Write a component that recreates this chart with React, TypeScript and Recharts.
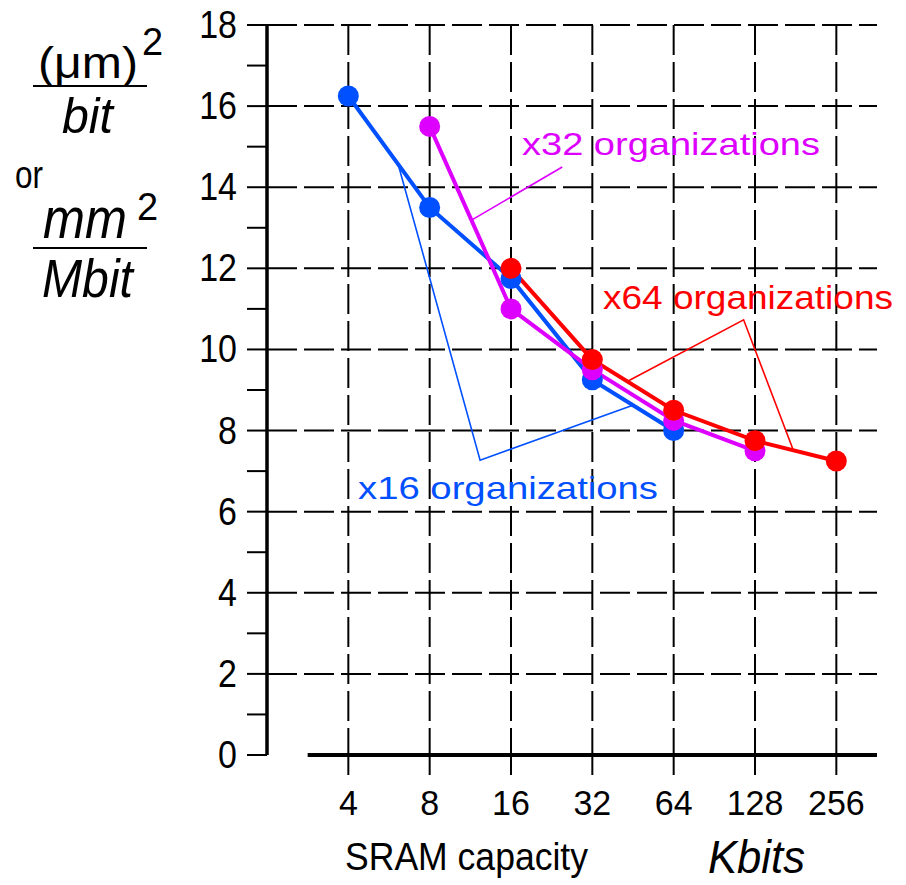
import React from 'react';
import { LineChart, Line, XAxis, YAxis, CartesianGrid, ReferenceLine } from 'recharts';

// ---- data ----
const capacities = ['4', '8', '16', '32', '64', '128', '256'];
const x16Values: (number | null)[] = [16.25, 13.5, 11.75, 9.25, 8.0, null, null];
const x32Values: (number | null)[] = [null, 15.5, 11.0, 9.5, 8.25, 7.5, null];
const x64Values: (number | null)[] = [null, null, 12.0, 9.75, 8.5, 7.75, 7.25];
const yTicks = [0, 1, 2, 3, 4, 5, 6, 7, 8, 9, 10, 11, 12, 13, 14, 15, 16, 17, 18];
const yGridValues = [2, 4, 6, 8, 10, 12, 14, 16, 18];

// leader lines for the annotations (in data coordinates: x = capacity index)
const x32Leader = [{ x: 2.63, y: 14.5 }, { x: 1.525, y: 13.2 }];
const x64Leader = [{ x: 3.44, y: 9.22 }, { x: 4.86, y: 10.73 }, { x: 5.47, y: 7.52 }];
const x16Leader = [{ x: 0.615, y: 14.55 }, { x: 1.62, y: 7.27 }, { x: 3.49, y: 8.62 }];

const rows = capacities.map((c, i) => ({ x: i, label: c, x16: x16Values[i], x32: x32Values[i], x64: x64Values[i] }));
const xTicks = capacities.map((_, i) => i);

const BLUE = '#0050FF';
const MAGENTA = '#DD00FF';
const RED = '#FF0000';
const FONT = '"Liberation Sans", Arial, Helvetica, sans-serif';

type TxtProps = {
  x: number; y: number; size: number; sy?: number; len?: number; italic?: boolean;
  fill?: string; anchor?: 'start' | 'middle' | 'end'; children: React.ReactNode;
};
const Txt = ({ x, y, size, sy = 1, len, italic, fill = '#000', anchor = 'start', children }: TxtProps) => (
  <text
    transform={`translate(${x},${y}) scale(1,${sy})`}
    fontSize={size}
    fontFamily={FONT}
    fontStyle={italic ? 'italic' : 'normal'}
    fill={fill}
    textAnchor={anchor}
    textLength={len}
    lengthAdjust={len ? 'spacingAndGlyphs' : undefined}
  >
    {children}
  </text>
);

const YTick = (props: any) => {
  const { x, y, payload } = props;
  if (payload.value % 2 !== 0) return <g />;
  return <Txt x={x} y={y + 13} size={34} sy={1.12} anchor="end">{payload.value}</Txt>;
};

const XTick = (props: any) => {
  const { x, y, payload } = props;
  return <Txt x={x} y={y + 30} size={34} sy={1.04} anchor="middle">{capacities[payload.value]}</Txt>;
};

export default function App() {
  return (
    <div style={{ position: 'absolute', left: 0, top: 0, width: 906, height: 885, background: '#fff' }}>
      <div style={{ position: 'absolute', left: 0, top: 0 }}>
        <LineChart width={906} height={885} data={rows} margin={{ top: 25, right: 29, bottom: 0, left: 0 }}>
          <CartesianGrid
            stroke="#000"
            strokeWidth={2}
            strokeDasharray="30 7"
            horizontalValues={yGridValues}
            verticalValues={xTicks}
          />
          <XAxis
            dataKey="x"
            type="number"
            domain={[-1, 6.5]}
            ticks={xTicks}
            interval={0}
            allowDataOverflow
            height={130}
            axisLine={false}
            tickLine={{ stroke: '#000', strokeWidth: 2 }}
            tickSize={20}
            tickMargin={10}
            tick={<XTick />}
          />
          <YAxis
            type="number"
            domain={[0, 18]}
            ticks={yTicks}
            interval={0}
            allowDataOverflow
            width={267}
            axisLine={{ stroke: '#000', strokeWidth: 3.5 }}
            tickLine={{ stroke: '#000', strokeWidth: 2 }}
            tickSize={20}
            tickMargin={10}
            tick={<YTick />}
          />
          <ReferenceLine
            segment={[{ x: -0.5, y: 0 }, { x: 6.5, y: 0 }]}
            stroke="#000"
            strokeWidth={4}
            ifOverflow="visible"
          />
          <Line data={x16Leader} dataKey="y" stroke={BLUE} strokeWidth={1.6} dot={false} isAnimationActive={false} />
          <Line data={x32Leader} dataKey="y" stroke={MAGENTA} strokeWidth={1.6} dot={false} isAnimationActive={false} />
          <Line data={x64Leader} dataKey="y" stroke={RED} strokeWidth={1.6} dot={false} isAnimationActive={false} />
          <Line dataKey="x16" stroke={BLUE} strokeWidth={4} dot={{ r: 10.5, fill: BLUE, stroke: 'none' }} isAnimationActive={false} />
          <Line dataKey="x32" stroke={MAGENTA} strokeWidth={4} dot={{ r: 10.5, fill: MAGENTA, stroke: 'none' }} isAnimationActive={false} />
          <Line dataKey="x64" stroke={RED} strokeWidth={4} dot={{ r: 10.5, fill: RED, stroke: 'none' }} isAnimationActive={false} />
        </LineChart>
      </div>
      <svg width={906} height={885} style={{ position: 'absolute', left: 0, top: 0, pointerEvents: 'none' }}>
        {/* y-axis title */}
        <Txt x={38} y={78} size={40} sy={1.12} len={100}>(μm)</Txt>
        <Txt x={142} y={55} size={38}>2</Txt>
        <line x1={33} x2={147} y1={86} y2={86} stroke="#000" strokeWidth={2} />
        <Txt x={62} y={133} size={46} sy={1.1} len={51} italic>bit</Txt>
        <Txt x={15} y={188} size={33} sy={1.15} len={28}>or</Txt>
        <Txt x={43} y={238} size={50} sy={1.15} len={84} italic>mm</Txt>
        <Txt x={137} y={220} size={38}>2</Txt>
        <line x1={33} x2={147} y1={248} y2={248} stroke="#000" strokeWidth={2} />
        <Txt x={42} y={297} size={48} sy={1.13} len={91} italic>Mbit</Txt>
        {/* x-axis titles */}
        <Txt x={345} y={870} size={36} sy={1.08} len={243}>SRAM capacity</Txt>
        <Txt x={708} y={873} size={44} sy={1.05} len={97} italic>Kbits</Txt>
        {/* annotations */}
        <Txt x={522} y={155} size={32} len={298} fill={MAGENTA}>x32 organizations</Txt>
        <Txt x={603} y={309} size={33} len={290} fill={RED}>x64 organizations</Txt>
        <Txt x={358} y={499} size={32} len={300} fill={BLUE}>x16 organizations</Txt>
      </svg>
    </div>
  );
}
